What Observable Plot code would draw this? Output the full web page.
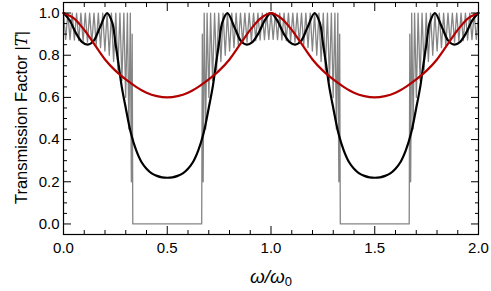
<!DOCTYPE html>
<html><head><meta charset="utf-8">
<script src="https://cdn.jsdelivr.net/npm/d3@7"></script>
<script src="https://cdn.jsdelivr.net/npm/@observablehq/plot@0.6"></script>
<style>body{margin:0;background:#fff} svg{display:block}</style>
</head><body><div id="chart"></div>
<script>
// Red curve (single layer)
const redOmega = [0,0.05,0.1,0.15,0.2,0.25,0.3,0.35,0.4,0.45,0.5,0.55,0.6,0.65,0.7,0.75,0.8,0.85,0.9,0.95,1.0,
  1.05,1.1,1.15,1.2,1.25,1.3,1.35,1.4,1.45,1.5,1.55,1.6,1.65,1.7,1.75,1.8,1.85,1.9,1.95,2.0];
const redT = [1.0,0.975,0.92,0.85,0.78,0.727,0.685,0.65,0.622,0.606,0.6,0.606,0.622,0.65,0.685,0.727,0.78,0.85,0.92,0.975,1.0,
  0.975,0.92,0.85,0.78,0.727,0.685,0.65,0.622,0.606,0.6,0.606,0.622,0.65,0.685,0.727,0.78,0.85,0.92,0.975,1.0];

// Black curve (few periods)
const blackOmega = [0,0.03,0.06,0.09,0.117,0.145,0.175,0.21,0.235,0.25,0.265,0.28,0.3,0.325,0.35,0.375,0.4,0.425,0.45,0.475,0.5,
  0.525,0.55,0.575,0.6,0.625,0.65,0.675,0.7,0.72,0.735,0.75,0.765,0.79,0.825,0.855,0.883,0.91,0.94,0.97,1.0,
  1.03,1.06,1.09,1.117,1.145,1.175,1.21,1.235,1.25,1.265,1.28,1.3,1.325,1.35,1.375,1.4,1.425,1.45,1.475,1.5,
  1.525,1.55,1.575,1.6,1.625,1.65,1.675,1.7,1.72,1.735,1.75,1.765,1.79,1.825,1.855,1.883,1.91,1.94,1.97,2.0];
const blackT = [1.0,0.965,0.905,0.862,0.85,0.868,0.93,1.0,0.955,0.86,0.76,0.655,0.55,0.43,0.35,0.295,0.262,0.24,0.228,0.221,0.219,
  0.221,0.228,0.24,0.262,0.295,0.35,0.43,0.55,0.655,0.76,0.86,0.955,1.0,0.93,0.868,0.85,0.862,0.905,0.965,1.0,
  0.965,0.905,0.862,0.85,0.868,0.93,1.0,0.955,0.86,0.76,0.655,0.55,0.43,0.35,0.295,0.262,0.24,0.228,0.221,0.219,
  0.221,0.228,0.24,0.262,0.295,0.35,0.43,0.55,0.655,0.76,0.86,0.955,1.0,0.93,0.868,0.85,0.862,0.905,0.965,1.0];

// Gray curve (many periods), peaks and troughs
const grayOmega = [0,0.0105,0.021,0.0315,0.042,0.0525,0.063,0.0735,0.084,0.0945,0.105,0.1155,0.126,0.1365,0.147,0.1575,0.168,0.1785,0.189,0.1995,0.21,0.2205,0.231,0.2415,0.252,0.262,0.272,0.2815,0.291,0.2995,0.308,0.315,0.322,0.327,0.331,0.334,
  0.666,0.669,0.673,0.678,0.685,0.692,0.7005,0.709,0.7185,0.728,0.738,0.748,0.7585,0.769,0.7795,0.79,0.8005,0.811,0.8215,0.832,0.8425,0.853,0.8635,0.874,0.8845,0.895,0.9055,0.916,0.9265,0.937,0.9475,0.958,0.9685,0.979,0.9895,1.0,
  1.0105,1.021,1.0315,1.042,1.0525,1.063,1.0735,1.084,1.0945,1.105,1.1155,1.126,1.1365,1.147,1.1575,1.168,1.1785,1.189,1.1995,1.21,1.2205,1.231,1.2415,1.252,1.262,1.272,1.2815,1.291,1.2995,1.308,1.315,1.322,1.327,1.331,1.334,
  1.666,1.669,1.673,1.678,1.685,1.692,1.7005,1.709,1.7185,1.728,1.738,1.748,1.7585,1.769,1.7795,1.79,1.8005,1.811,1.8215,1.832,1.8425,1.853,1.8635,1.874,1.8845,1.895,1.9055,1.916,1.9265,1.937,1.9475,1.958,1.9685,1.979,1.9895,2.0];
const grayT = [1,0.875,1,0.874,1,0.872,1,0.869,1,0.866,1,0.862,1,0.856,1,0.848,1,0.836,1,0.82,1,0.80,1,0.77,1,0.73,1,0.68,1,0.60,1,0.45,1,0.2,0.9,0,
  0,0.9,0.2,1,0.45,1,0.60,1,0.68,1,0.73,1,0.77,1,0.80,1,0.82,1,0.836,1,0.848,1,0.856,1,0.862,1,0.866,1,0.869,1,0.872,1,0.874,1,0.875,1,
  0.875,1,0.874,1,0.872,1,0.869,1,0.866,1,0.862,1,0.856,1,0.848,1,0.836,1,0.82,1,0.80,1,0.77,1,0.73,1,0.68,1,0.60,1,0.45,1,0.2,0.9,0,
  0,0.9,0.2,1,0.45,1,0.60,1,0.68,1,0.73,1,0.77,1,0.80,1,0.82,1,0.836,1,0.848,1,0.856,1,0.862,1,0.866,1,0.869,1,0.872,1,0.874,1,0.875,1];

// Ticks
const xMajor = [0,0.5,1,1.5,2];
const xMinor = [0.1,0.2,0.3,0.4,0.6,0.7,0.8,0.9,1.1,1.2,1.3,1.4,1.6,1.7,1.8,1.9];
const yMajor = [0,0.2,0.4,0.6,0.8,1.0];
const yMinor = [-0.05,0.05,0.1,0.15,0.25,0.3,0.35,0.45,0.5,0.55,0.65,0.7,0.75,0.85,0.9,0.95,1.05];
const xTickLabels = ["0.0","0.5","1.0","1.5","2.0"];
const yTickLabels = ["0.0","0.2","0.4","0.6","0.8","1.0"];

const toRows = (xs, ys) => xs.map((x, i) => ({x, y: ys[i]}));
const gray = toRows(grayOmega, grayT);
const black = toRows(blackOmega, blackT);
const red = toRows(redOmega, redT);

const font = "'Liberation Sans', Arial, sans-serif";
const chart = Plot.plot({
  width: 491, height: 291,
  marginLeft: 63, marginRight: 13, marginTop: 2, marginBottom: 57,
  style: {fontFamily: font, fontSize: "15px", color: "#000", background: "#fff"},
  x: {domain: [0, 2]},
  y: {domain: [-0.05, 1.05]},
  marks: [
    Plot.line(gray, {x: "x", y: "y", stroke: "#858585", strokeWidth: 1.3}),
    Plot.line(black, {x: "x", y: "y", stroke: "#000", strokeWidth: 2.2, curve: "catmull-rom"}),
    Plot.line(red, {x: "x", y: "y", stroke: "#b30000", strokeWidth: 2.2, curve: "catmull-rom"}),
    Plot.frame({stroke: "#000", strokeWidth: 1.2}),
    Plot.axisX(xMajor, {anchor: "bottom", tickSize: -8, text: null, label: null}),
    Plot.axisX(xMinor, {anchor: "bottom", tickSize: -4, text: null, label: null}),
    Plot.axisX(xMajor, {anchor: "top", tickSize: -8, text: null, label: null}),
    Plot.axisX(xMinor, {anchor: "top", tickSize: -4, text: null, label: null}),
    Plot.axisY(yMajor, {anchor: "left", tickSize: -8, text: null, label: null}),
    Plot.axisY(yMinor, {anchor: "left", tickSize: -4, text: null, label: null}),
    Plot.axisY(yMajor, {anchor: "right", tickSize: -8, text: null, label: null}),
    Plot.axisY(yMinor, {anchor: "right", tickSize: -4, text: null, label: null}),
    Plot.axisX(xMajor, {anchor: "bottom", tickSize: 0, tickPadding: 8, fontSize: 15, label: null,
      tickFormat: d => xTickLabels[xMajor.indexOf(d)]}),
    Plot.axisY(yMajor, {anchor: "left", tickSize: 0, tickPadding: 4, fontSize: 15, label: null,
      tickFormat: d => yTickLabels[yMajor.indexOf(d)]})
  ]
});
document.getElementById("chart").appendChild(chart);

const svg = d3.select(chart);
const yl = svg.append("text")
  .attr("transform", "translate(27,117.5) rotate(-90)")
  .attr("text-anchor", "middle")
  .attr("font-family", font).attr("font-size", 16.5).attr("fill", "#000");
yl.append("tspan").text("Transmission Factor |");
yl.append("tspan").attr("font-style", "italic").attr("font-family", "'DejaVu Serif', serif").text("T");
yl.append("tspan").text("|");

const xl = svg.append("text")
  .attr("x", 271).attr("y", 283)
  .attr("text-anchor", "middle")
  .attr("font-family", font).attr("font-size", 19).attr("fill", "#000");
xl.append("tspan").attr("font-style", "italic").text("ω/ω");
xl.append("tspan").attr("font-size", 13).attr("dy", 3).text("0");
</script>
</body></html>
